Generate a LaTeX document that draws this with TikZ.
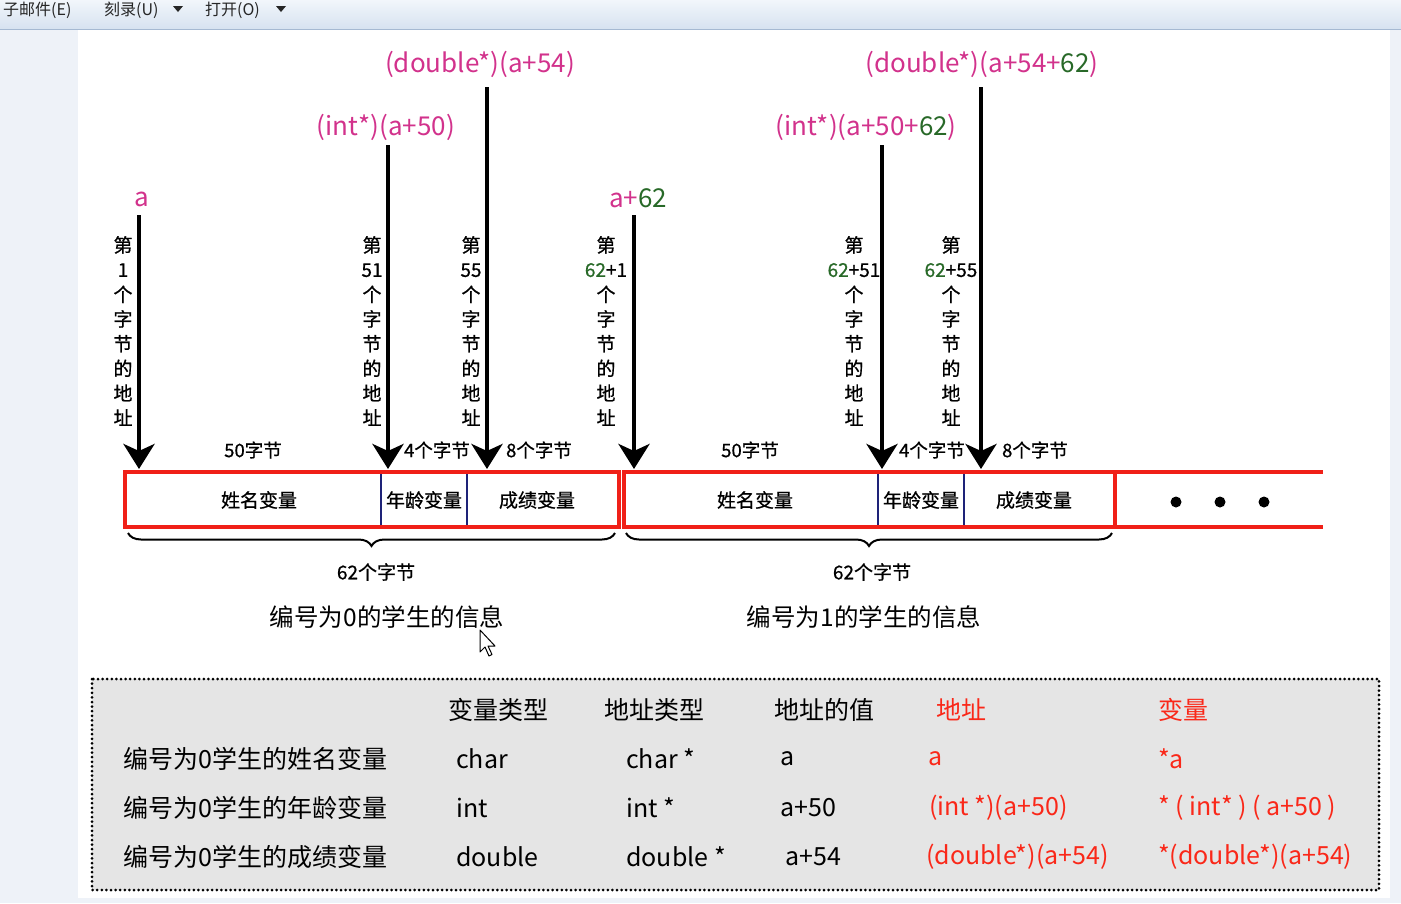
\documentclass[tikz,border=0pt]{standalone}
\usepackage{fontspec}
\setmainfont{Noto Sans CJK SC}
\newfontfamily\medfont[FakeBold=0.7]{Noto Sans CJK SC}
\usetikzlibrary{arrows.meta,decorations.pathreplacing}
\definecolor{mag}{RGB}{210,50,140}
\definecolor{grn}{RGB}{40,105,40}
\definecolor{rboxc}{RGB}{240,32,24}
\definecolor{navy}{RGB}{30,35,120}
\definecolor{tred}{RGB}{250,40,25}
\definecolor{tabbg}{RGB}{229,229,229}
\definecolor{barA}{RGB}{242,246,251}
\definecolor{barB}{RGB}{214,226,240}
\definecolor{sidec}{RGB}{238,242,248}
\tikzset{
  arr/.style={line width=4.5pt,-{Stealth[length=25pt,width=31pt,inset=7pt]}},
  toplab/.style={font=\fontsize{26}{30}\selectfont,text=mag,inner sep=0pt},
  vlab/.style={align=center,font=\medfont\fontsize{19}{24.7}\selectfont,inner sep=0pt},
  blab/.style={font=\medfont\fontsize{18.5}{20}\selectfont,inner sep=0pt},
  cellt/.style={font=\medfont\fontsize{19}{20}\selectfont,inner sep=0pt},
  redline/.style={draw=rboxc,line width=4pt},
  divline/.style={draw=navy,line width=2.5pt},
  bracel/.style={line width=2pt,decorate,decoration={brace,mirror,amplitude=13pt}},
  tab/.style={font=\fontsize{25}{28}\selectfont,anchor=west,inner sep=0pt},
  tabr/.style={tab,text=tred},
  menu/.style={font=\fontsize{16}{18}\selectfont,text=black!85,anchor=west,inner sep=0pt}
}
\begin{document}
\begin{tikzpicture}[x=1pt,y=-1pt]
\useasboundingbox (0,0) rectangle (1401,903);
% window background
\fill[white] (0,0) rectangle (1401,903);
\shade[top color=barA,bottom color=barB] (0,0) rectangle (1401,29);
\draw[color={rgb,255:red,165;green,185;blue,210},line width=1.5pt] (0,29.5) -- (1401,29.5);
\fill[sidec] (0,30) rectangle (78,903);
\fill[sidec] (1390,30) rectangle (1401,903);
\fill[sidec] (78,898) rectangle (1390,903);
% menu texts
\node[menu] (m1) at (3,10) {子邮件(E)};
\node[menu] (m2) at (104,10) {刻录(U)};
\node[menu] (m3) at (205,10) {打开(O)};
\fill[black!85] (173,6) -- (183,6) -- (178,12) -- cycle;
\fill[black!85] (276,6) -- (286,6) -- (281,12) -- cycle;

% top labels
\node[toplab] (la)  at (142,199) {a};
\node[toplab] (lb)  at (386,127) {(int*)(a+50)};
\node[toplab] (lc)  at (480,64) {(double*)(a+54)};
\node[toplab] (ld)  at (638,198) {a+{\color{grn}62}};
\node[toplab] (le)  at (866,127) {(int*)(a+50+{\color{grn}62})};
\node[toplab] (lf)  at (982,64) {(double*)(a+54+{\color{grn}62})};

% arrow end points
\coordinate (ta) at (139,215); \coordinate (ha) at (139,469);
\coordinate (tb) at (388,145); \coordinate (hb) at (388,469);
\coordinate (tc) at (487,87);  \coordinate (hc) at (487,469);
\coordinate (td) at (634,215); \coordinate (hd) at (634,469);
\coordinate (te) at (882,145); \coordinate (he) at (882,469);
\coordinate (tf) at (981,87);  \coordinate (hf) at (981,469);
\foreach \p in {a,b,c,d,e,f} {\draw[arr] (t\p) -- (h\p);}

% vertical labels
\node[vlab] (va) at (123,331) {第\\1\\个\\字\\节\\的\\地\\址};
\node[vlab] (vb) at (372,331) {第\\51\\个\\字\\节\\的\\地\\址};
\node[vlab] (vc) at (471,331) {第\\55\\个\\字\\节\\的\\地\\址};
\node[vlab] (vd) at (606,331) {第\\{\color{grn}62}+1\\个\\字\\节\\的\\地\\址};
\node[vlab] (ve) at (854,331) {第\\{\color{grn}62}+51\\个\\字\\节\\的\\地\\址};
\node[vlab] (vf) at (951,331) {第\\{\color{grn}62}+55\\个\\字\\节\\的\\地\\址};

% byte labels
\node[blab] (b1) at (253,450) {50字节};
\node[blab] (b2) at (437,450) {4个字节};
\node[blab] (b3) at (539,450) {8个字节};
\node[blab] (b4) at (750,450) {50字节};
\node[blab] (b5) at (932,450) {4个字节};
\node[blab] (b6) at (1035,450) {8个字节};

% memory boxes
\draw[redline] (125,472) rectangle (619,527);
\draw[redline] (624,472) rectangle (1115,527);
\draw[redline] (1115,472) -- (1323,472);
\draw[redline] (1115,527) -- (1323,527);
\draw[divline] (381,474) -- (381,525);
\draw[divline] (467,474) -- (467,525);
\draw[divline] (878,474) -- (878,525);
\draw[divline] (964,474) -- (964,525);
\node[cellt] (c1) at (259,500) {姓名变量};
\node[cellt] (c2) at (424,500) {年龄变量};
\node[cellt] (c3) at (537,500) {成绩变量};
\node[cellt] (c4) at (755,500) {姓名变量};
\node[cellt] (c5) at (921,500) {年龄变量};
\node[cellt] (c6) at (1034,500) {成绩变量};
\fill (1176,502) circle (5.5);
\fill (1220,502) circle (5.5);
\fill (1264,502) circle (5.5);

% braces
\coordinate (bl1) at (128,533); \coordinate (br1) at (615,533);
\coordinate (bl2) at (626,533); \coordinate (br2) at (1112,533);
\draw[bracel] (bl1) -- (br1);
\draw[bracel] (bl2) -- (br2);
\node[cellt] (s1) at (376,572) {62个字节};
\node[cellt] (s2) at (872,572) {62个字节};
\node[font=\fontsize{24.5}{28}\selectfont,inner sep=0pt] (g1) at (387,617) {编号为0的学生的信息};
\node[font=\fontsize{24.5}{28}\selectfont,inner sep=0pt] (g2) at (864,617) {编号为1的学生的信息};

% mouse cursor
\draw[fill=white,line width=1pt,line join=round] (480,630) -- (480,652) -- (485,647) -- (489,656) -- (492,654.5) -- (488,646) -- (495,646) -- cycle;

% table
\draw[fill=tabbg,line width=3pt,dash pattern=on 0pt off 4.6pt,line cap=round] (92,679) rectangle (1379,890);
\node[tab] (h1) at (448,710) {变量类型};
\node[tab] (h2) at (604,710) {地址类型};
\node[tab] (h3) at (774,710) {地址的值};
\node[tabr] (h4) at (936,710) {地址};
\node[tabr] (h5) at (1158,710) {变量};

\node[tab] (r1a) at (123,759) {编号为0学生的姓名变量};
\node[tab] (r1b) at (456,759) {char};
\node[tab] (r1c) at (626,759) {char *};
\node[tab] (r1d) at (780,759) {a};
\node[tabr] (r1e) at (928,759) {a};
\node[tabr] (r1f) at (1158,759) {*a};

\node[tab] (r2a) at (123,808) {编号为0学生的年龄变量};
\node[tab] (r2b) at (456,808) {int};
\node[tab] (r2c) at (626,808) {int *};
\node[tab] (r2d) at (780,808) {a+50};
\node[tabr] (r2e) at (929,808) {(int *)(a+50)};
\node[tabr] (r2f) at (1158,808) {* ( int* ) ( a+50 )};

\node[tab] (r3a) at (123,857) {编号为0学生的成绩变量};
\node[tab] (r3b) at (456,857) {double};
\node[tab] (r3c) at (626,857) {double *};
\node[tab] (r3d) at (785,857) {a+54};
\node[tabr] (r3e) at (926,857) {(double*)(a+54)};
\node[tabr] (r3f) at (1158,857) {*(double*)(a+54)};
\end{tikzpicture}
\end{document}
